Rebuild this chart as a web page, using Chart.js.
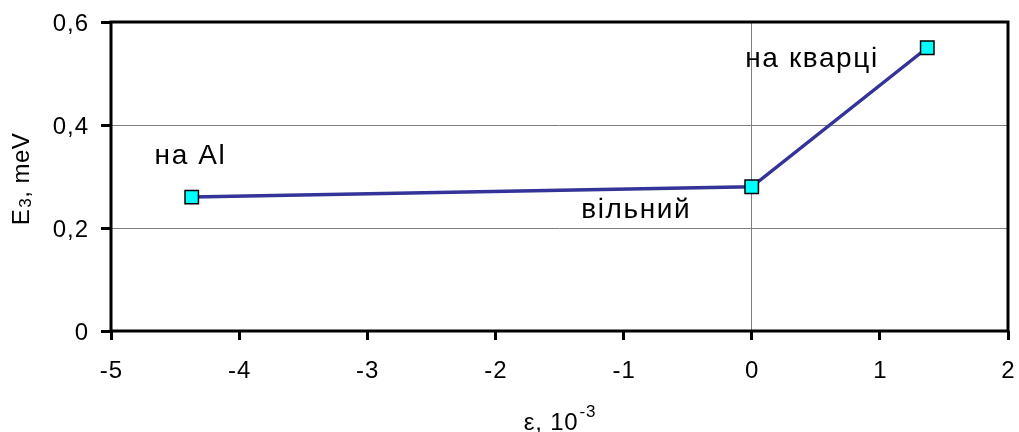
<!DOCTYPE html>
<html>
<head>
<meta charset="utf-8">
<script src="https://cdn.jsdelivr.net/npm/chart.js@4"></script>
<style>
  html, body { margin: 0; padding: 0; background: #fff; }
  canvas { display: block; }
</style>
</head>
<body>
<canvas id="chart" width="1019" height="432"></canvas>
<script>
// Strain (10^-3) and E3 energy (meV) for the three samples
const strain = [-4.37, 0, 1.37];
const energy = [0.26, 0.28, 0.55];
const sampleNames = ['на Al', 'вільний', 'на кварці'];

const xTickLabels = ['-5', '-4', '-3', '-2', '-1', '0', '1', '2'];
const yTickLabels = ['0', '0,2', '0,4', '0,6'];

const FONT = '"Liberation Sans", Arial, sans-serif';

// Sample captions, anchored in data space next to their points
const captionAnchors = [
  { x: -4.66, y: 0.324 },
  { x: -1.33, y: 0.219 },
  { x: -0.05, y: 0.513 }
];

const framePlugin = {
  id: 'frame',
  beforeDatasetsDraw(chart) {
    const { ctx, chartArea: a } = chart;
    ctx.save();
    ctx.strokeStyle = '#000';
    ctx.lineWidth = 3;
    ctx.strokeRect(a.left, a.top, a.right - a.left, a.bottom - a.top);
    ctx.restore();
  }
};

const textPlugin = {
  id: 'texts',
  afterDraw(chart) {
    const { ctx, scales } = chart;
    const xs = scales.x, ys = scales.y;
    ctx.save();
    ctx.fillStyle = '#000';
    ctx.textBaseline = 'alphabetic';

    // tick labels
    ctx.font = '24px ' + FONT;
    ctx.letterSpacing = '1px';
    ctx.textAlign = 'center';
    xs.ticks.forEach((t, i) => {
      ctx.fillText(xTickLabels[i], xs.getPixelForValue(t.value) + 0.5, xs.top + 47);
    });
    ctx.textAlign = 'right';
    ys.ticks.forEach((t, i) => {
      ctx.fillText(yTickLabels[i], ys.right - 22, ys.getPixelForValue(t.value) + 8.5);
    });

    // sample captions
    ctx.font = '28px ' + FONT;
    ctx.letterSpacing = '1.6px';
    ctx.textAlign = 'left';
    captionAnchors.forEach((p, i) => {
      ctx.fillText(sampleNames[i], xs.getPixelForValue(p.x), ys.getPixelForValue(p.y));
    });
    ctx.letterSpacing = '0.8px';

    // x axis title: ε, 10^-3
    const big = '24px ' + FONT, small = '17px ' + FONT;
    ctx.font = big;
    const main = 'ε, 10';
    const wMain = ctx.measureText(main).width;
    ctx.font = small;
    const sup = '-3';
    const wSup = ctx.measureText(sup).width;
    const xc = (xs.left + xs.right) / 2;
    const x0 = xc - (wMain + wSup) / 2;
    ctx.font = big;
    ctx.fillText(main, x0, 430);
    ctx.font = small;
    ctx.fillText(sup, x0 + wMain + 1, 417);

    // y axis title: E_3, meV (rotated)
    ctx.letterSpacing = '0.5px';
    ctx.translate(29, (ys.top + ys.bottom) / 2 + 3);
    ctx.rotate(-Math.PI / 2);
    ctx.font = big;
    const wE = ctx.measureText('E').width;
    const rest = ', meV';
    const wRest = ctx.measureText(rest).width;
    ctx.font = small;
    const wSub = ctx.measureText('3').width;
    const y0 = -(wE + wSub + wRest) / 2;
    ctx.font = big;
    ctx.fillText('E', y0, 0);
    ctx.font = small;
    ctx.fillText('3', y0 + wE + 1, 2);
    ctx.font = big;
    ctx.fillText(rest, y0 + wE + wSub + 1, 0);
    ctx.restore();
  }
};

new Chart(document.getElementById('chart'), {
  type: 'scatter',
  data: {
    datasets: [{
      data: strain.map((x, i) => ({ x, y: energy[i] })),
      showLine: true,
      borderColor: '#333399',
      borderWidth: 3.5,
      pointStyle: 'rect',
      pointRadius: 9.5,
      pointHoverRadius: 9.5,
      pointBackgroundColor: '#00FFFF',
      pointBorderColor: '#000',
      pointBorderWidth: 1.5,
      tension: 0
    }]
  },
  options: {
    responsive: false,
    animation: false,
    devicePixelRatio: 1,
    layout: { padding: { top: 22, right: 7, left: 0, bottom: 0 } },
    plugins: { legend: { display: false }, tooltip: { enabled: false } },
    scales: {
      x: {
        type: 'linear',
        min: -5, max: 2,
        afterFit(s) {
          s.height = 101;
          s.paddingLeft = 0;
          s.paddingRight = 0;
        },
        border: { display: false },
        grid: {
          color: c => (c.tick && c.tick.value === 0 ? '#7f7f7f' : 'rgba(0,0,0,0)'),
          lineWidth: 1,
          tickColor: '#000',
          tickLength: 9,
          tickWidth: 3
        },
        ticks: { stepSize: 1, display: false }
      },
      y: {
        min: 0, max: 0.6,
        afterFit(s) {
          s.width = 111;
          s.paddingTop = 0;
          s.paddingBottom = 0;
        },
        border: { display: false },
        grid: {
          color: c => (c.tick && c.tick.value > 0 && c.tick.value < 0.6 ? '#7f7f7f' : 'rgba(0,0,0,0)'),
          lineWidth: 1,
          tickColor: '#000',
          tickLength: 10,
          tickWidth: 3
        },
        ticks: { stepSize: 0.2, display: false }
      }
    }
  },
  plugins: [framePlugin, textPlugin]
});
</script>
</body>
</html>
